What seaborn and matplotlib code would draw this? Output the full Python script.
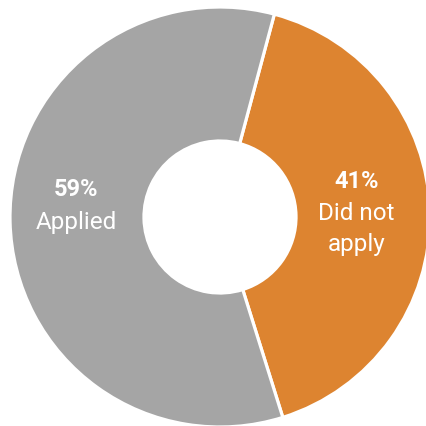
import numpy as np
import matplotlib
matplotlib.use("Agg")
import matplotlib.pyplot as plt
import seaborn as sns

# data
labels = ["Did not\napply", "Applied"]
shares = [41, 59]
colors = ["#DD8430", "#A5A5A5"]

sns.set_theme(style="white")
plt.rcParams['font.family'] = ['Roboto', 'DejaVu Sans']

W, H = 426, 427
fig = plt.figure(figsize=(W / 100, H / 100), dpi=100)
ax = fig.add_axes([0, 0, 1, 1])

# donut centre sits at (220, 218) px with 210 px radius -> slightly cropped right/bottom
R, cx, cy = 210.0, 220.0, 218.0
wedges, _ = ax.pie(shares, colors=colors, startangle=75, counterclock=False,
                   radius=1, wedgeprops=dict(width=0.638, edgecolor="white", linewidth=2.3))

# small per-label nudges (px) from the mid-angle anchor
nudges = [(-4, -2), (-3, -15)]
pitch = 31.5 * 0.72  # line pitch in points
for w, lab, val, (nx, ny) in zip(wedges, labels, shares, nudges):
    mid = np.deg2rad((w.theta1 + w.theta2) / 2)
    x, y = 0.67 * np.cos(mid), 0.67 * np.sin(mid)
    lines = [f"{val}%"] + lab.split("\n")
    n = len(lines)
    p = pitch if n > 2 else pitch * 1.05
    for i, txt in enumerate(lines):
        off = ((n - 1) / 2 - i) * p
        ax.annotate(txt, (x, y), xytext=(nx * 0.72, -ny * 0.72 + off), textcoords="offset points",
                    ha="center", va="center", color="white",
                    fontsize=17 if i == 0 else 17.5, fontweight="bold" if i == 0 else "normal")

ax.set_xlim(-cx / R, (W - cx) / R)
ax.set_ylim(-(H - cy) / R, cy / R)
ax.set_aspect("auto")
ax.axis("off")

fig.savefig("out.png", dpi=100, facecolor="white")
